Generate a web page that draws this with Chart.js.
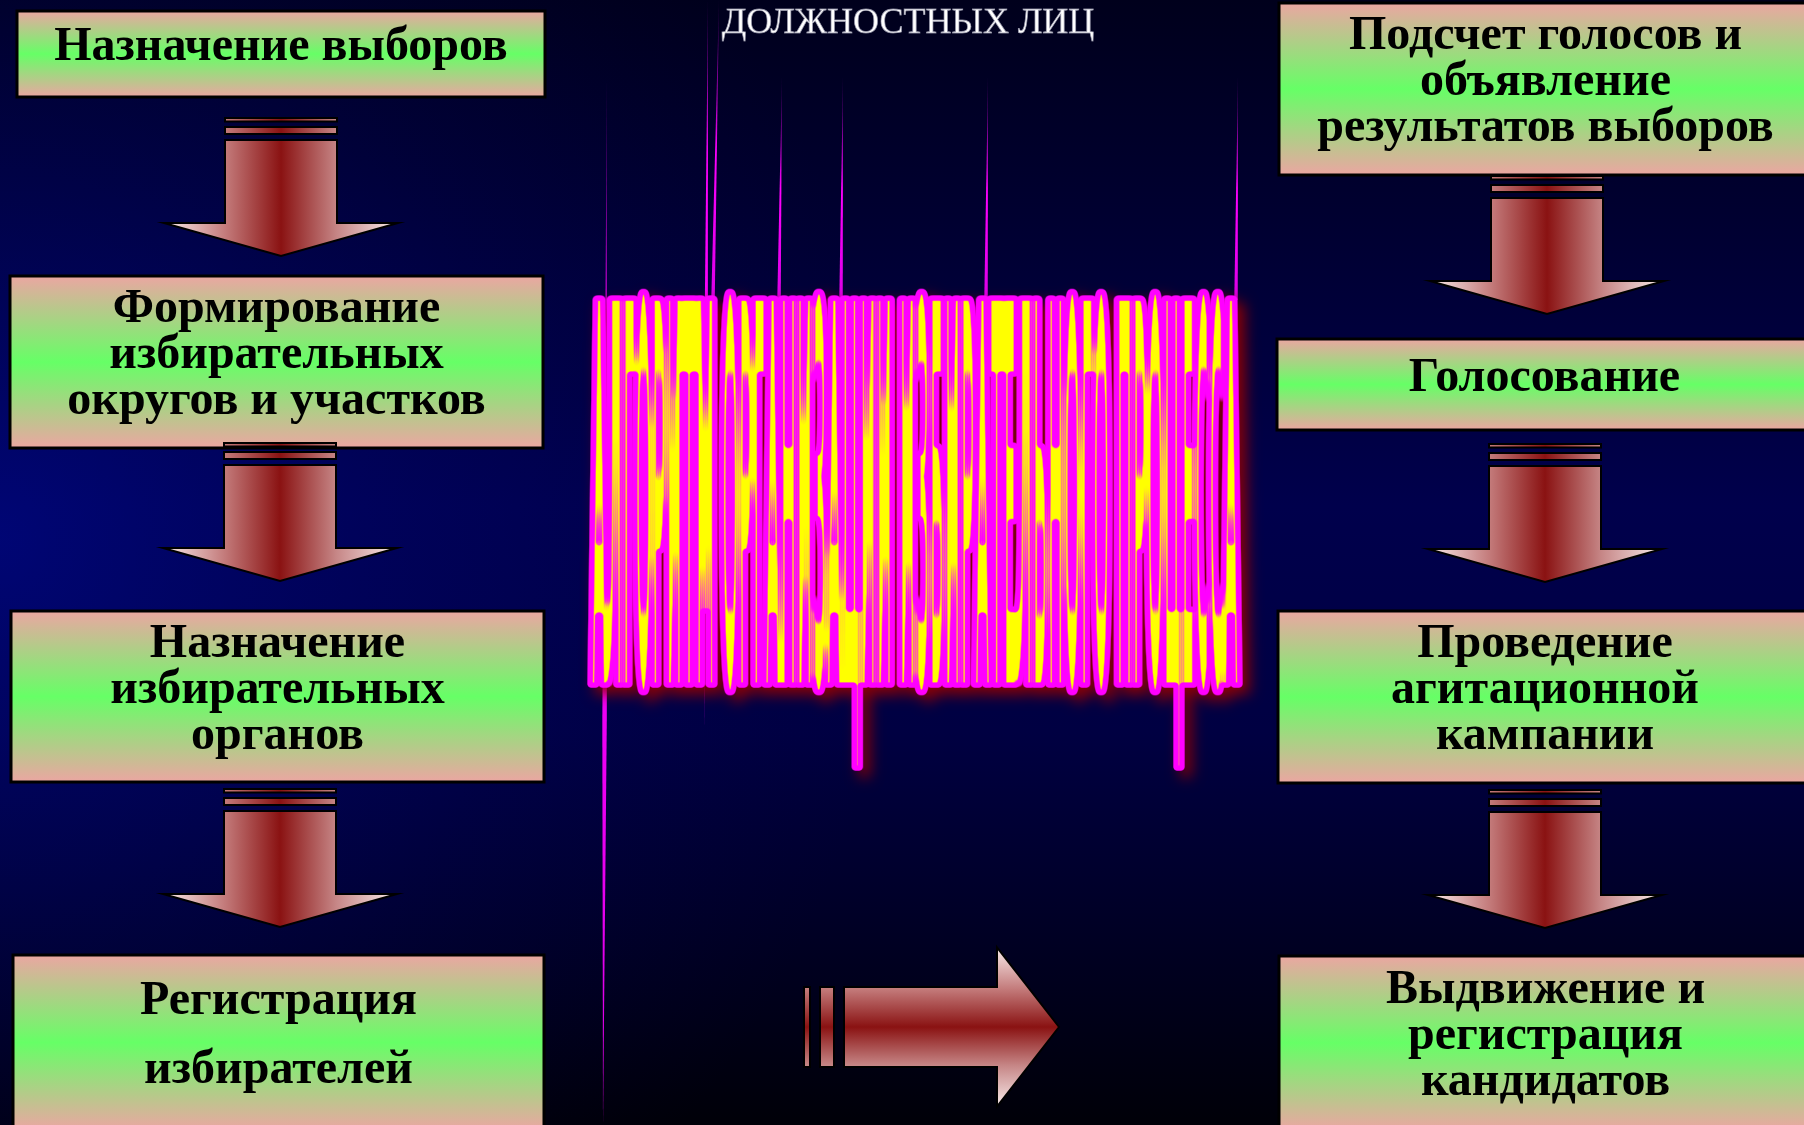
<!DOCTYPE html>
<html>
<head>
<meta charset="utf-8">
<title>Алгоритм организации избирательного процесса</title>
<script src="https://cdn.jsdelivr.net/npm/chart.js@4.4.0/dist/chart.umd.min.js"></script>
<style>
  html, body { margin: 0; padding: 0; background: #000018; overflow: hidden; }
  canvas { display: block; }
</style>
</head>
<body>
<canvas id="slide" width="1804" height="1125"></canvas>
<script>
//////////////////////////////// Daten (Folieneinheiten, 0..1804 x 0..1125) ////////////////////////////////

var titleText = 'ДОЛЖНОСТНЫХ ЛИЦ';
var headingText = 'АЛГОРИТМ ОРГАНИЗАЦИИ ИЗБИРАТЕЛЬНОГО ПРОЦЕССА';

// linke Spalte (von oben nach unten)
var leftSteps = [
  ['Назначение выборов'],
  ['Формирование', 'избирательных', 'округов и участков'],
  ['Назначение', 'избирательных', 'органов'],
  ['Регистрация', 'избирателей']
];
var leftBoxLeft   = [17, 10, 11, 13];
var leftBoxRight  = [545, 543, 544, 544];
var leftBoxTop    = [11, 276, 611, 955];
var leftBoxBottom = [97, 448, 782, 1130];
var leftLineGap   = [46, 46, 46, 69];
var leftArrowTop  = [118, 443, 789];
var leftArrowX    = [281, 280, 280];

// rechte Spalte (von oben nach unten)
var rightSteps = [
  ['Подсчет голосов и', 'объявление', 'результатов выборов'],
  ['Голосование'],
  ['Проведение', 'агитационной', 'кампании'],
  ['Выдвижение и', 'регистрация', 'кандидатов']
];
var rightBoxLeft   = [1279, 1277, 1278, 1279];
var rightBoxRight  = [1812, 1812, 1812, 1812];
var rightBoxTop    = [3, 339, 611, 956];
var rightBoxBottom = [175, 430, 783, 1130];
var rightLineGap   = [46, 46, 46, 46];
var rightArrowTop  = [176, 444, 790];
var rightArrowX    = [1547, 1545, 1545];

// Pfeil unten in der Mitte
var flowArrowStart = 804;
var flowArrowEnd   = 1059;
var flowArrowY     = 1027;

// Überschrift (gestreckter Schriftzug)
var headingLeft = 590, headingRight = 1240, headingCapTop = 298, headingBaseline = 685;
var titleX = 908, titleBaseline = 33;

// dünne Linien (Spitzen) um den Schriftzug
var spikeTopX    = [607, 708, 719, 782, 843, 988, 1238];
var spikeTopY    = [79, 0, 0, 77, 77, 77, 77];
var spikeBottomX = [603, 704, 713, 779, 841, 986, 1236];
var spikeBottomY = [1125, 728, 300, 300, 300, 300, 300];
var spikeWideY   = [720, 300, 300, 300, 300, 300, 300];
var spikeWidth   = [4.5, 3, 3.5, 3.5, 3.5, 3.5, 3.5];

//////////////////////////////// Funktionen ////////////////////////////////

function px(chart, v) { return chart.scales.x.getPixelForValue(v); }
function py(chart, v) { return chart.scales.y.getPixelForValue(v); }

function drawBackground(chart) {
  var ctx = chart.ctx, a = chart.chartArea;
  var g = ctx.createLinearGradient(0, a.top, 0, a.bottom);
  g.addColorStop(0, '#00001c');
  g.addColorStop(0.45, '#00004c');
  g.addColorStop(0.65, '#000042');
  g.addColorStop(1, '#000008');
  ctx.fillStyle = g;
  ctx.fillRect(a.left, a.top, a.right - a.left, a.bottom - a.top);
  var r = ctx.createRadialGradient(a.left, py(chart, 540), 0, a.left, py(chart, 540), 900);
  r.addColorStop(0, 'rgba(0,10,150,0.55)');
  r.addColorStop(1, 'rgba(0,0,80,0)');
  ctx.fillStyle = r;
  ctx.fillRect(a.left, a.top, a.right - a.left, a.bottom - a.top);
}

function drawSpikes(chart) {
  var ctx = chart.ctx;
  for (var i = 0; i < spikeTopX.length; i++) {
    var tx = px(chart, spikeTopX[i]), ty = py(chart, spikeTopY[i]);
    var bx = px(chart, spikeBottomX[i]), by = py(chart, spikeBottomY[i]);
    var wy = py(chart, spikeWideY[i]);
    var f = (wy - ty) / (by - ty);
    var wx = tx + (bx - tx) * f;
    var g = ctx.createLinearGradient(0, ty, 0, by);
    g.addColorStop(0, 'rgba(150,0,170,0.35)');
    g.addColorStop(Math.min(f, 1) * 0.5, 'rgba(255,0,255,1)');
    g.addColorStop(1, 'rgba(230,0,240,0.95)');
    ctx.fillStyle = g;
    ctx.beginPath();
    ctx.moveTo(tx, ty);
    ctx.lineTo(wx - spikeWidth[i] / 2, wy);
    ctx.lineTo(bx, by);
    ctx.lineTo(wx + spikeWidth[i] / 2, wy);
    ctx.closePath();
    ctx.fill();
  }
}

function drawBox(chart, left, right, top, bottom, lines, gap) {
  var ctx = chart.ctx;
  var l = px(chart, left), r = px(chart, right), t = py(chart, top), b = py(chart, bottom);
  var g = ctx.createLinearGradient(0, t, 0, b);
  g.addColorStop(0, '#eba6a2');
  g.addColorStop(0.5, '#66ff66');
  g.addColorStop(1, '#eba6a2');
  ctx.fillStyle = g;
  ctx.fillRect(l, t, r - l, b - t);
  ctx.lineWidth = 3;
  ctx.strokeStyle = '#000';
  ctx.strokeRect(l, t, r - l, b - t);

  ctx.fillStyle = '#000';
  ctx.font = 'bold 48px "Liberation Serif", "Times New Roman", serif';
  ctx.textAlign = 'center';
  ctx.textBaseline = 'alphabetic';
  var cx = (left + right) / 2, cy = (top + bottom) / 2 + 6;
  var n = lines.length;
  for (var i = 0; i < n; i++) {
    ctx.fillText(lines[i], px(chart, cx), py(chart, cy + (i - (n - 1) / 2) * gap));
  }
}

function arrowGradient(ctx, x0, y0, x1, y1) {
  var g = ctx.createLinearGradient(x0, y0, x1, y1);
  g.addColorStop(0, '#f9ecec');
  g.addColorStop(0.26, '#c47c7c');
  g.addColorStop(0.5, '#8a1212');
  g.addColorStop(0.74, '#c68686');
  g.addColorStop(1, '#f9ecec');
  return g;
}

// Pfeil nach unten, Form in Folieneinheiten relativ zur Oberkante
function drawDownArrow(chart, cxv, topv) {
  var ctx = chart.ctx;
  var X = function (d) { return px(chart, cxv + d); };
  var Y = function (d) { return py(chart, topv + d); };
  ctx.fillStyle = arrowGradient(ctx, X(-117), 0, X(117), 0);
  ctx.strokeStyle = '#000';
  ctx.lineWidth = 2;
  // zwei Streifen
  ctx.beginPath();
  ctx.rect(X(-56), Y(0), X(56) - X(-56), Y(3.5) - Y(0));
  ctx.rect(X(-56), Y(9), X(56) - X(-56), Y(16) - Y(9));
  ctx.fill(); ctx.stroke();
  // Schaft und Spitze
  ctx.beginPath();
  ctx.moveTo(X(-56), Y(22));
  ctx.lineTo(X(56), Y(22));
  ctx.lineTo(X(56), Y(105));
  ctx.lineTo(X(117), Y(105));
  ctx.lineTo(X(0), Y(138));
  ctx.lineTo(X(-117), Y(105));
  ctx.lineTo(X(-56), Y(105));
  ctx.closePath();
  ctx.fill(); ctx.stroke();
}

function drawFlowArrow(chart) {
  var ctx = chart.ctx;
  var len = flowArrowEnd - flowArrowStart;
  var X = function (d) { return px(chart, flowArrowStart + d * len / 255); };
  var Y = function (d) { return py(chart, flowArrowY + d); };
  ctx.fillStyle = arrowGradient(ctx, 0, Y(-80), 0, Y(80));
  ctx.strokeStyle = '#000';
  ctx.lineWidth = 2;
  ctx.beginPath();
  ctx.rect(X(0), Y(-40), X(6) - X(0), Y(40) - Y(-40));
  ctx.rect(X(16), Y(-40), X(30) - X(16), Y(40) - Y(-40));
  ctx.fill(); ctx.stroke();
  ctx.beginPath();
  ctx.moveTo(X(40), Y(-40));
  ctx.lineTo(X(193), Y(-40));
  ctx.lineTo(X(193), Y(-79.5));
  ctx.lineTo(X(255), Y(0));
  ctx.lineTo(X(193), Y(79.5));
  ctx.lineTo(X(193), Y(40));
  ctx.lineTo(X(40), Y(40));
  ctx.closePath();
  ctx.fill(); ctx.stroke();
}

function drawTitle(chart) {
  var ctx = chart.ctx;
  ctx.font = '36px "Liberation Serif", "Times New Roman", serif';
  ctx.textAlign = 'center';
  ctx.textBaseline = 'alphabetic';
  ctx.lineWidth = 0.8;
  ctx.strokeStyle = 'rgba(150,150,170,0.8)';
  ctx.fillStyle = '#ffffff';
  ctx.fillText(titleText, px(chart, titleX), py(chart, titleBaseline));
  ctx.strokeText(titleText, px(chart, titleX), py(chart, titleBaseline));
}

// gestreckter Schriftzug: gelbe Füllung, magenta Rand, roter Schatten
function drawHeading(chart) {
  var ctx = chart.ctx;
  var W = chart.width, H = chart.height;
  var x0 = px(chart, headingLeft), x1 = px(chart, headingRight);
  var yTop = py(chart, headingCapTop), yBase = py(chart, headingBaseline);
  var bold = 3;
  var mk = function () { var c = document.createElement('canvas'); c.width = W; c.height = H; return c; };

  var mask = mk(), mc = mask.getContext('2d');
  mc.font = 'bold 100px "DejaVu Sans"';
  var w = mc.measureText(headingText).width;
  var cap = mc.measureText('Н').actualBoundingBoxAscent;
  var sx = (x1 - x0 - bold) / w, sy = (yBase - yTop) / cap;
  mc.fillStyle = '#ffff00';
  for (var k = 0; k <= bold; k++) {
    mc.setTransform(sx, 0, 0, sy, x0 + k, yBase);
    mc.fillText(headingText, 0, 0);
  }
  mc.setTransform(1, 0, 0, 1, 0, 0);

  var ring = mk(), rc = ring.getContext('2d');
  var core = mk(), cc = core.getContext('2d');
  cc.drawImage(mask, 0, 0);
  cc.globalCompositeOperation = 'destination-in';
  rc.drawImage(mask, 0, 0);
  for (var a = 0; a < 16; a++) {
    var ang = a / 16 * Math.PI * 2;
    rc.drawImage(mask, 2.5 * Math.cos(ang), 2.5 * Math.sin(ang));
    cc.drawImage(mask, 2.4 * Math.cos(ang), 2.4 * Math.sin(ang));
  }
  rc.globalCompositeOperation = 'source-in';
  rc.fillStyle = '#ff00ff';
  rc.fillRect(0, 0, W, H);

  ctx.save();
  ctx.shadowColor = 'rgba(150,0,0,0.9)';
  ctx.shadowBlur = 14;
  ctx.shadowOffsetX = 7;
  ctx.shadowOffsetY = 7;
  ctx.drawImage(ring, 0, 0);
  ctx.restore();
  ctx.drawImage(core, 0, 0);
}

var slidePlugin = {
  id: 'slidePlugin',
  beforeDraw: function (chart) {
    drawBackground(chart);
    drawSpikes(chart);
  },
  afterDraw: function (chart) {
    var i;
    for (i = 0; i < leftSteps.length; i++) {
      drawBox(chart, leftBoxLeft[i], leftBoxRight[i], leftBoxTop[i], leftBoxBottom[i], leftSteps[i], leftLineGap[i]);
    }
    for (i = 0; i < rightSteps.length; i++) {
      drawBox(chart, rightBoxLeft[i], rightBoxRight[i], rightBoxTop[i], rightBoxBottom[i], rightSteps[i], rightLineGap[i]);
    }
    for (i = 0; i < leftArrowTop.length; i++) drawDownArrow(chart, leftArrowX[i], leftArrowTop[i]);
    for (i = 0; i < rightArrowTop.length; i++) drawDownArrow(chart, rightArrowX[i], rightArrowTop[i]);
    drawFlowArrow(chart);
    drawTitle(chart);
    drawHeading(chart);
  }
};

window.onload = function () {
  var points = [];
  for (var i = 0; i < leftSteps.length; i++) points.push({ x: (leftBoxLeft[i] + leftBoxRight[i]) / 2, y: (leftBoxTop[i] + leftBoxBottom[i]) / 2 });
  for (var j = 0; j < rightSteps.length; j++) points.push({ x: (rightBoxLeft[j] + rightBoxRight[j]) / 2, y: (rightBoxTop[j] + rightBoxBottom[j]) / 2 });

  new Chart(document.getElementById('slide'), {
    type: 'scatter',
    data: {
      datasets: [{
        label: 'Этапы',
        data: points,
        pointRadius: 0,
        pointHoverRadius: 0
      }]
    },
    options: {
      responsive: false,
      animation: false,
      devicePixelRatio: 1,
      layout: { padding: 0 },
      events: [],
      plugins: { legend: { display: false }, tooltip: { enabled: false } },
      scales: {
        x: { type: 'linear', min: 0, max: 1804, display: false },
        y: { type: 'linear', min: 0, max: 1125, reverse: true, display: false }
      }
    },
    plugins: [slidePlugin]
  });
};
</script>
</body>
</html>
